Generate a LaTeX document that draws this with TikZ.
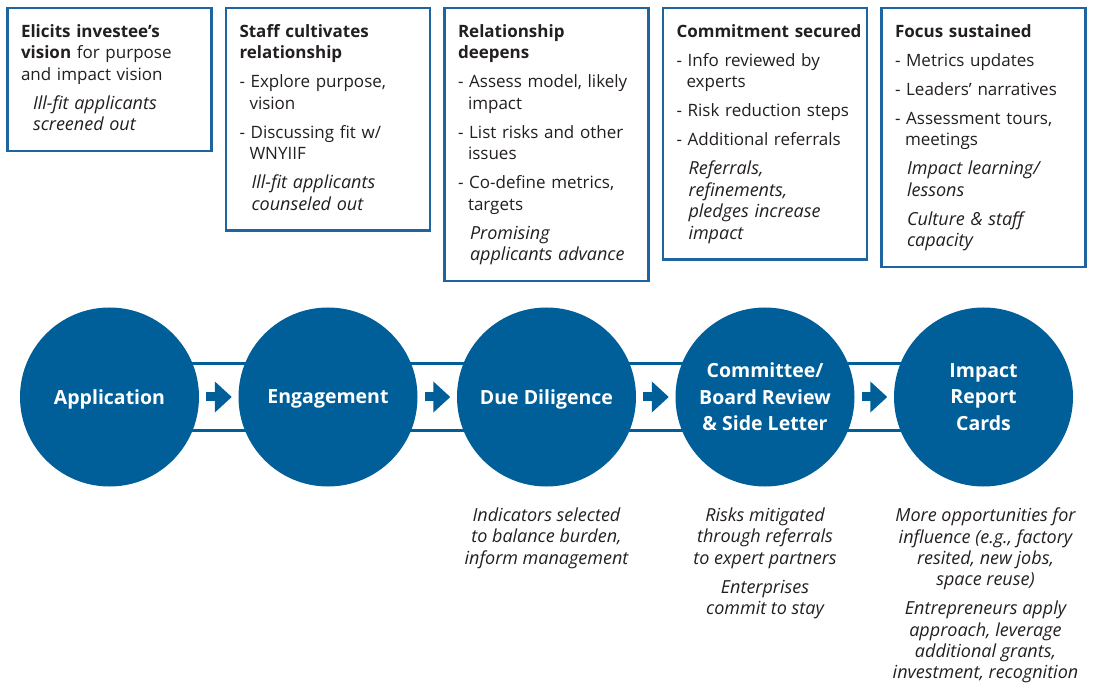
\documentclass[tikz,border=0pt]{standalone}
\usepackage{fontspec}
\setmainfont{Open Sans}
\usetikzlibrary{arrows.meta,positioning,backgrounds}
\definecolor{fundblue}{HTML}{005E99}
\definecolor{edgeblue}{HTML}{1D64A0}
\definecolor{ink}{HTML}{231F20}
% hanging indent for wrapped items, indented italic remarks
\newcommand{\hang}{\hspace*{10pt}}
\newcommand{\remark}[1]{\hspace*{12pt}{\fontsize{18}{21.5}\selectfont\itshape #1}}
\tikzset{
  stagecircle/.style={circle, fill=fundblue, minimum size=179pt, inner sep=0pt,
    text=white, font=\fontsize{19.5}{26.5}\selectfont\bfseries, align=center},
  oneline/.style={text depth=0pt},
  notebox/.style={rectangle, draw=edgeblue, line width=2.5pt, fill=white,
    text=ink, text width=177pt, inner xsep=13.5pt, inner ysep=14pt,
    align=left, anchor=north, font=\fontsize{17}{21.5}\selectfont,
    execute at begin node={\rightskip=-20pt plus 1fil\relax\strut},
    execute at end node=\strut},
  outcome/.style={text=ink, inner sep=0pt, align=center,
    font=\fontsize{18}{21.4}\selectfont\itshape,
    execute at begin node=\strut, execute at end node=\strut},
  steparrow/.style={-{Triangle[length=17pt,width=30pt]}, line width=9pt,
    draw=fundblue, shorten <=7pt, shorten >=6.5pt},
  band/.style={draw=fundblue, line width=3pt, fill=white},
}

\begin{document}
\begin{tikzpicture}[x=1pt, y=-1pt]
  \useasboundingbox (0,0) rectangle (1095,684);
  % stages
  \node[stagecircle, oneline] (c1) at (109.5,397) {Application};
  \node[stagecircle, oneline] (c2) at (328,397) {Engagement};
  \node[stagecircle, oneline] (c3) at (546.5,397) {Due Diligence};
  \node[stagecircle] (c4) at (765,397) {Committee/\\Board Review\\\& Side Letter};
  \node[stagecircle] (c5) at (983.5,397) {Impact\\Report\\Cards};
  \begin{scope}[on background layer]
    \draw[band] ([yshift=33pt]c1.center) rectangle ([yshift=-33pt]c5.center);
  \end{scope}
  \draw[steparrow] (c1) -- (c2);
  \draw[steparrow] (c2) -- (c3);
  \draw[steparrow] (c3) -- (c4);
  \draw[steparrow] (c4) -- (c5);

  % what happens at each stage
  \node[notebox] (b1) at (109.5,7) {\textbf{Elicits investee’s}\\\textbf{vision} for purpose\\and impact vision\\[7.5pt]\remark{Ill-fit applicants}\\\remark{screened out}};
  \node[notebox] (b2) at (328,7) {\textbf{Staff cultivates}\\\textbf{relationship}\\[7.5pt]- Explore purpose,\\\hang vision\\[7.5pt]- Discussing fit w/\\\hang WNYIIF\\[7.5pt]\remark{Ill-fit applicants}\\\remark{counseled out}};
  \node[notebox] (b3) at (546.5,7) {\textbf{Relationship}\\\textbf{deepens}\\[7.5pt]- Assess model, likely\\\hang impact\\[7.5pt]- List risks and other\\\hang issues\\[7.5pt]- Co-define metrics,\\\hang targets\\[7.5pt]\remark{Promising}\\\remark{applicants advance}};
  \node[notebox] (b4) at (765,7) {\textbf{Commitment secured}\\[7.5pt]- Info reviewed by\\\hang experts\\[7.5pt]- Risk reduction steps\\[7.5pt]- Additional referrals\\[7.5pt]\remark{Referrals,}\\\remark{refinements,}\\\remark{pledges increase}\\\remark{impact}};
  \node[notebox] (b5) at (983.5,7) {\textbf{Focus sustained}\\[7.5pt]- Metrics updates\\[7.5pt]- Leaders’ narratives\\[7.5pt]- Assessment tours,\\\hang meetings\\[7.5pt]\remark{Impact learning/}\\\remark{lessons}\\[7.5pt]\remark{Culture \& staff}\\\remark{capacity}};

  % results below the later stages
  \node[outcome, below=21pt of c3] (o3) {Indicators selected\\to balance burden,\\inform management};
  \node[outcome, below=21pt of c4] (o4) {Risks mitigated\\through referrals\\to expert partners\\[7.5pt]Enterprises\\commit to stay};
  \node[outcome, below=21pt of c5, xshift=2pt] (o5) {More opportunities for\\influence (e.g., factory\\resited, new jobs,\\space reuse)\\[7.5pt]Entrepreneurs apply\\approach, leverage\\additional grants,\\investment, recognition};
\end{tikzpicture}
\end{document}
